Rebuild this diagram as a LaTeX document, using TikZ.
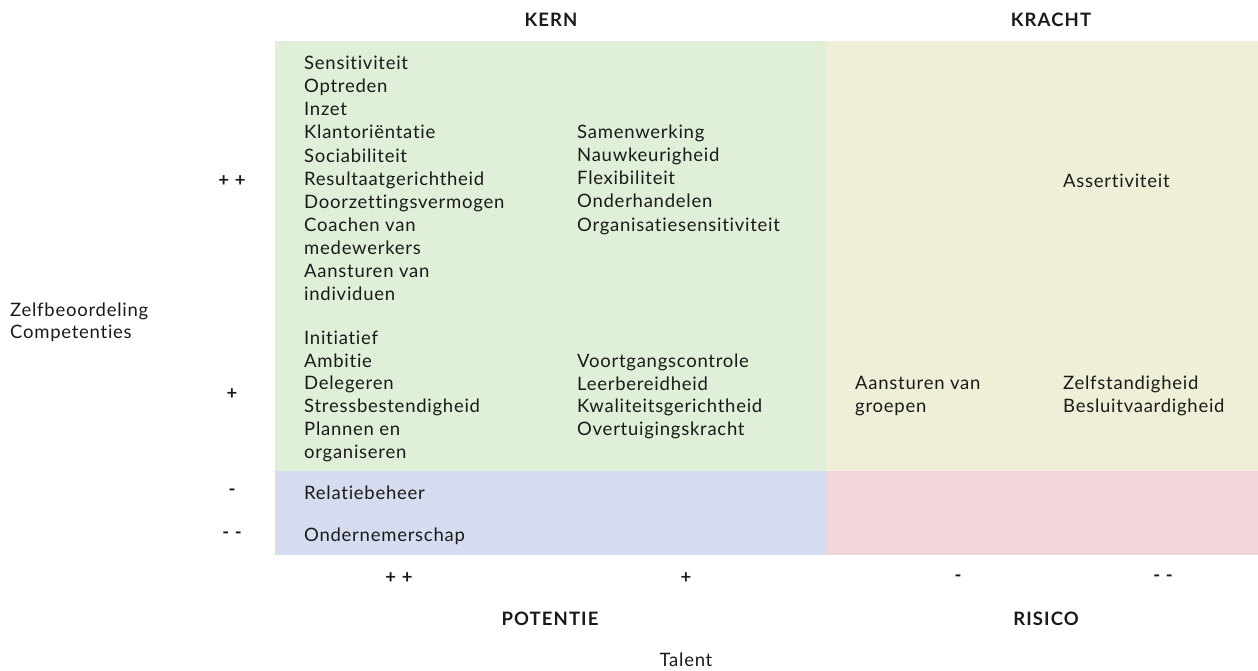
\documentclass[tikz,border=0pt]{standalone}
\usepackage{fontspec}
\setmainfont{Lato}
\newfontfamily\lbfont[LetterSpace=4,Ligatures=NoCommon]{Lato}
\newfontfamily\hdfont[LetterSpace=6,Ligatures=NoCommon]{Lato}
\definecolor{cgreen}{HTML}{E0EFD8}
\definecolor{cyellow}{HTML}{EFEFD7}
\definecolor{cblue}{HTML}{D6DCEF}
\definecolor{cpink}{HTML}{F1D5D9}
\definecolor{ctext}{HTML}{1A1A1A}
\tikzset{
  lbl/.style={anchor=west, inner sep=0pt, text height=13.3pt, text depth=0pt, font=\lbfont\fontsize{18.5}{22}\selectfont, text=ctext},
  hd/.style={anchor=center, inner sep=0pt, text height=13.3pt, text depth=0pt, font=\hdfont\bfseries\fontsize{18.5}{22}\selectfont, text=ctext},
  tick/.style={anchor=center, inner sep=0pt, font=\hdfont\bfseries\fontsize{18.5}{22}\selectfont, text=ctext},
}
\begin{document}
\begin{tikzpicture}[x=1pt,y=-1pt]
\useasboundingbox (0,0) rectangle (1258,670);
% quadrants
\fill[cgreen] (275,41) rectangle (826,471);
\fill[cyellow] (826,41) rectangle (1258,471);
\fill[cblue] (275,471) rectangle (826,555);
\fill[cpink] (826,471) rectangle (1258,555);
% headers
\node[hd] (kern) at (551,20) {KERN};
\node[hd] (kracht) at (1051,20) {KRACHT};
\node[hd] (potentie) at (550,619) {POTENTIE};
\node[hd] (risico) at (1046,619) {RISICO};
% y-axis ticks
\node[tick] (ypp) at (232,181) {+ +};
\node[tick] (yp) at (232,394) {+};
\node[tick] (ym) at (232,492) {-};
\node[tick] (ymm) at (232,535) {- -};
% x-axis ticks
\node[tick] (xpp) at (399,578) {+ +};
\node[tick] (xp) at (686,578) {+};
\node[tick] (xm) at (958,578) {-};
\node[tick] (xmm) at (1163,578) {- -};
% axis titles
\node[lbl] (ylab1) at (10,310) {Zelfbeoordeling};
\node[lbl] (ylab2) at (10,332) {Competenties};
\node[lbl, anchor=center] (xlab) at (686,660) {Talent};
% cell texts
\foreach \t [count=\i from 0] in {Sensitiviteit,Optreden,Inzet,Klantoriëntatie,Sociabiliteit,Resultaatgerichtheid,Doorzettingsvermogen,Coachen van,medewerkers,Aansturen van,individuen}
  \node[lbl, name=a\i] at (304,63+23.1*\i) {\t};
\foreach \t [count=\i from 0] in {Samenwerking,Nauwkeurigheid,Flexibiliteit,Onderhandelen,Organisatiesensitiviteit}
  \node[lbl, name=b\i] at (577,132+23.1*\i) {\t};
\node[lbl] (c0) at (1063,181) {Assertiviteit};
\foreach \t [count=\i from 0] in {Initiatief,Ambitie,Delegeren,Stressbestendigheid,Plannen en,organiseren}
  \node[lbl, name=d\i] at (304,337.5+22.9*\i) {\t};
\foreach \t [count=\i from 0] in {Voortgangscontrole,Leerbereidheid,Kwaliteitsgerichtheid,Overtuigingskracht}
  \node[lbl, name=e\i] at (577,360.5+22.9*\i) {\t};
\node[lbl] (f0) at (855,383) {Aansturen van};
\node[lbl] (f1) at (855,406) {groepen};
\node[lbl] (g0) at (1063,383) {Zelfstandigheid};
\node[lbl] (g1) at (1063,406) {Besluitvaardigheid};
\node[lbl] (h0) at (304,493) {Relatiebeheer};
\node[lbl] (h1) at (304,535) {Ondernemerschap};
\end{tikzpicture}
\end{document}
